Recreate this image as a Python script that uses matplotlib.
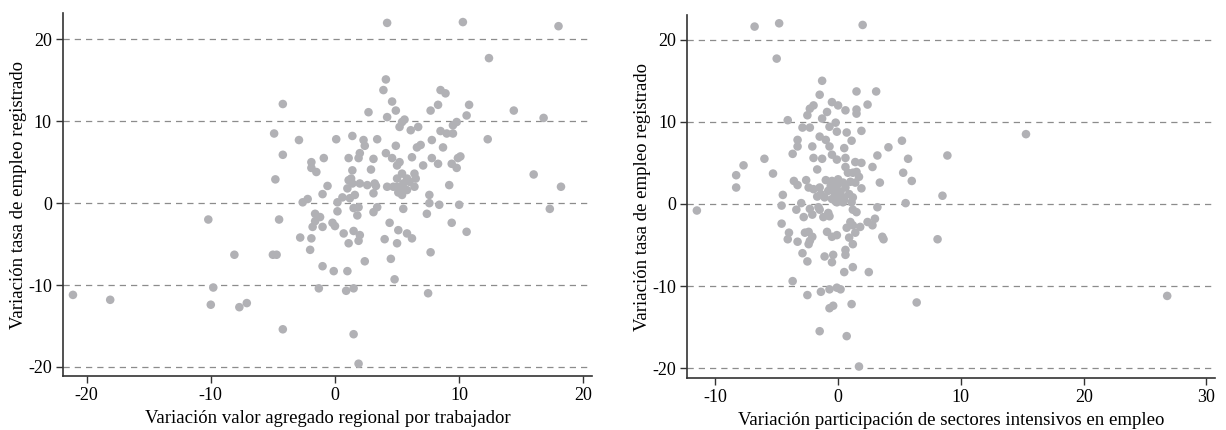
import numpy as np
import matplotlib
matplotlib.use("Agg")
import matplotlib.pyplot as plt

plt.rcParams['font.family'] = ['Liberation Serif', 'DejaVu Serif']
plt.rcParams['axes.unicode_minus'] = False

# Panel 1: valor agregado regional por trabajador vs tasa de empleo
va_x = [-21.1, -18.1, -10.2, -9.8, -10.0, -8.1, -7.7, -7.1, -5.0, -4.7, -4.5, -4.2,
        -4.2, -4.9, -4.2, -4.8, -2.9, -2.6, -2.2, -2.8, -1.9, -2.0, 4.2, 10.3,
        18.0, 12.4, 4.1, 3.9, 4.6, 4.9, 2.7, 4.2, 0.1, 1.4, 2.3, 2.4,
        3.4, 4.9, -0.9, -1.9, -1.9, -1.5, 1.1, 1.9, 2.0, 3.1, 4.1, 4.6,
        5.0, 2.9, 1.4, 1.3, 1.1, 2.0, 2.6, 3.2, 3.1, 4.2, 5.0, -0.6,
        -1.0, 1.0, 0.6, 1.6, 0.2, 0.2, 1.8, 1.9, 3.4, 3.1, -1.6, -1.2,
        -1.6, -1.8, -1.0, -0.2, 0.0, 0.7, 1.5, 2.0, 1.9, 1.1, 4.4, 5.1,
        4.0, 5.0, 4.5, 2.4, -1.0, -0.1, 1.0, 4.8, -1.3, 0.9, 1.5, 1.5,
        1.9, 8.5, 8.9, 7.7, 8.3, 10.8, 10.6, 14.4, 16.8, 5.2, 5.6, 5.4,
        6.1, 6.7, 8.5, 9.0, 9.5, 9.8, 9.5, 12.3, 7.8, 6.6, 6.9, 8.7,
        5.2, 6.2, 7.8, 8.3, 7.1, 10.1, 9.9, 9.4, 9.8, 16.0, 18.2, 9.2,
        5.4, 5.8, 6.4, 6.5, 5.5, 6.0, 5.0, 5.4, 5.8, 6.4, 5.4, 4.7,
        7.6, 7.6, 8.4, 10.0, 5.5, 7.4, 17.3, 9.4, 5.8, 6.2, 10.6, 7.7,
        7.5, 1.2, 5.1, 1.4, 3.3, 1.5]
va_y = [-11.2, -11.8, -2.0, -10.3, -12.4, -6.3, -12.7, -12.2, -6.3, -6.3, -2.0, -15.4,
        12.1, 8.5, 5.9, 2.9, 7.7, 0.1, 0.5, -4.2, -4.3, -5.7, 22.0, 22.1,
        21.6, 17.7, 15.1, 13.8, 12.4, 11.3, 11.1, 10.5, 7.8, 8.2, 7.7, 7.0,
        7.8, 7.0, 5.5, 5.0, 4.3, 3.8, 5.5, 5.5, 6.1, 5.4, 6.1, 5.5,
        4.6, 4.1, 4.0, 3.0, 2.8, 2.4, 2.2, 2.4, 1.2, 2.0, 3.0, 2.1,
        1.1, 1.8, 0.7, 1.0, 0.1, -1.0, -1.5, -0.5, -0.5, -1.1, -1.3, -1.7,
        -2.2, -2.9, -2.9, -2.4, -2.8, -3.7, -3.4, -3.9, -4.6, -4.9, -2.4, -3.3,
        -4.4, -4.9, -6.8, -7.1, -7.7, -8.3, -8.3, -9.3, -10.4, -10.7, -10.4, -16.0,
        -19.6, 13.8, 13.4, 11.3, 12.0, 12.0, 10.7, 11.3, 10.4, 9.3, 10.2, 9.9,
        8.9, 9.3, 8.8, 8.5, 9.5, 9.9, 8.5, 7.8, 7.7, 6.8, 7.1, 6.8,
        5.0, 5.6, 5.5, 4.8, 4.6, 5.7, 5.5, 4.8, 4.3, 3.5, 2.0, 2.2,
        3.6, 3.0, 3.6, 3.0, 2.4, 2.6, 2.0, 1.8, 1.6, 2.0, 1.0, 2.0,
        1.0, 0.0, -0.2, -0.2, -0.7, -1.3, -0.7, -2.4, -3.7, -4.3, -3.5, -6.0,
        -11.0, 0.6, 1.3, 2.4, 2.1, -0.6]

# Panel 2: participacion de sectores intensivos vs tasa de empleo
si_x = [-6.8, -4.8, 2.0, -5.0, -1.3, -1.5, 1.5, 3.1, -2.0, -2.3, -2.5, -0.5,
        0.0, -0.9, 0.6, 1.5, 1.5, 2.4, -4.1, -1.3, -2.9, -2.3, -0.7, -0.2,
        -0.1, 0.7, 1.9, -3.3, -3.3, -1.5, -1.0, 1.1, -2.1, -0.7, 0.5, 4.1,
        5.2, -3.7, -2.0, -1.3, -0.5, -0.1, 0.6, 1.4, 3.2, 5.7, -6.0, -7.7,
        -8.3, -8.3, -5.3, -1.7, 1.9, 2.8, 5.3, 6.0, 3.4, -3.6, -3.3, -2.6,
        0.6, 0.8, 1.2, 1.5, 1.7, 1.0, 1.4, -1.5, -1.0, -0.5, 0.0, 0.4,
        -0.8, -0.3, 0.2, 0.6, -1.4, -2.0, -2.4, 0.9, -0.1, -0.6, 0.3, -1.1,
        -0.5, 0.0, 0.5, 1.2, -1.7, -0.2, -4.5, 1.9, 5.5, -4.6, -11.5, -3.0,
        -2.3, -2.1, -2.8, -3.4, 3.2, -1.6, -1.5, -1.2, -0.8, -0.7, -0.1, 0.4,
        1.1, 1.2, 1.5, -4.6, -4.0, -4.1, -3.3, -2.7, -2.4, -2.1, -2.3, -2.4,
        -0.9, -0.5, -0.1, 0.7, 1.0, 1.2, 1.4, 0.9, 1.2, 1.8, 2.4, 2.8,
        3.0, 3.6, 3.7, -2.9, -2.5, -1.1, -0.4, -0.5, 0.6, 0.6, 1.2, 0.5,
        2.5, -3.7, -2.5, -1.4, -0.7, -0.1, 0.2, -0.7, -0.4, 1.1, -1.5, 0.7,
        1.7, 6.4, 8.1, 26.8, 15.3, 8.9, 8.5]
si_y = [21.6, 22.0, 21.8, 17.7, 15.0, 13.3, 13.7, 13.7, 12.0, 11.6, 10.8, 12.4,
        12.0, 11.2, 11.4, 11.5, 11.0, 12.1, 10.2, 10.4, 9.3, 9.3, 9.4, 9.9,
        8.8, 8.7, 8.9, 7.8, 7.0, 8.2, 7.8, 7.7, 7.0, 7.0, 6.8, 6.9,
        7.7, 6.1, 5.6, 5.5, 6.0, 5.4, 5.6, 5.1, 5.9, 5.5, 5.5, 4.7,
        3.5, 2.0, 3.7, 4.2, 5.0, 4.5, 3.8, 2.8, 2.6, 2.8, 2.3, 2.9,
        4.5, 3.8, 3.8, 3.9, 3.3, 2.7, 2.6, 2.0, 2.9, 2.8, 3.0, 2.6,
        1.6, 1.4, 1.5, 2.0, 1.2, 1.8, 2.0, 1.2, 2.2, 2.2, 0.9, 0.8,
        0.6, 0.7, 0.5, 0.8, 0.9, 0.3, 1.1, 1.9, 0.1, -0.2, -0.8, 0.1,
        -0.6, -1.3, -1.6, -0.7, -0.4, -0.4, -0.7, -1.6, -1.1, -1.5, 0.2, 0.2,
        0.2, -0.7, -1.0, -2.4, -3.5, -4.3, -4.6, -3.5, -3.4, -4.0, -4.5, -4.9,
        -3.4, -4.0, -3.8, -2.9, -2.2, -2.6, -3.5, -4.1, -4.9, -2.8, -2.2, -2.6,
        -1.8, -4.0, -4.3, -6.0, -7.0, -6.4, -6.2, -7.1, -5.6, -6.2, -7.7, -8.3,
        -8.3, -9.4, -11.1, -10.7, -10.4, -10.2, -10.4, -12.7, -12.4, -12.2, -15.5, -16.1,
        -19.8, -12.0, -4.3, -11.2, 8.5, 5.9, 1.0]

ylabel = 'Variación tasa de empleo registrado'
xlabels = ['Variación valor agregado regional por trabajador',
           'Variación participación de sectores intensivos en empleo']
yticks = [-20, -10, 0, 10, 20]

fig = plt.figure(figsize=(12.26, 4.30), dpi=100)
ax1 = fig.add_axes([0.0514, 0.1256, 0.4315, 0.844])
ax2 = fig.add_axes([0.5604, 0.1209, 0.4307, 0.844])

panels = [(ax1, va_x, va_y, (-21.9, 20.7), (-21.1, 23.2), [-20, -10, 0, 10, 20]),
          (ax2, si_x, si_y, (-12.3, 30.7), (-21.2, 23.0), [-10, 0, 10, 20, 30])]

for i, (ax, xs, ys, xl, yl, xt) in enumerate(panels):
    for t in yticks:
        ax.axhline(t, color='#8c8c8c', lw=0.9, ls=(0, (5, 4)), zorder=1)
    ax.scatter(xs, ys, s=38, color='#b1b1b5', edgecolors='none', zorder=3)
    ax.set_xlim(*xl)
    ax.set_ylim(*yl)
    ax.set_xticks(xt)
    ax.set_yticks(yticks)
    ax.spines['top'].set_visible(False)
    ax.spines['right'].set_visible(False)
    for s in ['left', 'bottom']:
        ax.spines[s].set_color('#333333')
        ax.spines[s].set_linewidth(1.2)
    ax.tick_params(direction='out', length=5, width=1.0, color='#333333',
                   labelsize=13, pad=3)
    ax.set_xlabel(xlabels[i], fontsize=13.5, labelpad=4)
    ax.set_ylabel(ylabel, fontsize=13.5, labelpad=1)

fig.savefig('out.png', dpi=100)
